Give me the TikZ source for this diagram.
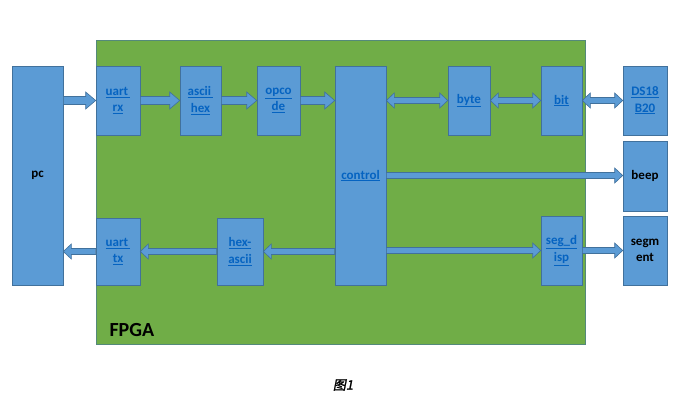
\documentclass[tikz,border=0pt]{standalone}
\usepackage{fontspec}
\setmainfont{Carlito}
\newfontfamily\cjk[FakeSlant=0.2,FakeBold=1.5]{Noto Sans CJK SC}
\usetikzlibrary{calc}
\definecolor{fpgagreen}{HTML}{70AD47}
\definecolor{boxblue}{HTML}{5B9BD5}
\definecolor{boxedge}{HTML}{41719C}
\definecolor{linkblue}{HTML}{0563C1}
\newcommand{\lnk}[1]{{\color{linkblue}\underline{#1}}}
% block arrow from #2 to #3, half shaft width #1
\newcommand{\fatarrow}[3][3]{%
  \draw[arrowshape] let \p1=(#2), \p2=(#3), \n1={sign(\x2-\x1)}, \n2={(2*#1+2)*\n1}, \n3={#1+4.5} in
    (\x1,{\y1+#1pt}) -- ({\x2-\n2*1pt},{\y1+#1pt}) -- ({\x2-\n2*1pt},{\y1+\n3*1pt})
    -- (\x2,\y1) -- ({\x2-\n2*1pt},{\y1-\n3*1pt}) -- ({\x2-\n2*1pt},{\y1-#1pt})
    -- (\x1,{\y1-#1pt}) -- cycle;}
\newcommand{\fatdouble}[3][3]{%
  \draw[arrowshape] let \p1=(#2), \p2=(#3), \n1={sign(\x2-\x1)}, \n2={(2*#1+2)*\n1}, \n3={#1+4.5} in
    (\x1,\y1) -- ({\x1+\n2*1pt},{\y1+\n3*1pt}) -- ({\x1+\n2*1pt},{\y1+#1pt})
    -- ({\x2-\n2*1pt},{\y1+#1pt}) -- ({\x2-\n2*1pt},{\y1+\n3*1pt})
    -- (\x2,\y1) -- ({\x2-\n2*1pt},{\y1-\n3*1pt}) -- ({\x2-\n2*1pt},{\y1-#1pt})
    -- ({\x1+\n2*1pt},{\y1-#1pt}) -- ({\x1+\n2*1pt},{\y1-\n3*1pt}) -- cycle;}
\tikzset{
  box/.style={draw=boxedge, fill=boxblue, line width=0.6pt, inner sep=0pt, align=center,
    font=\fontsize{13}{16.5}\selectfont\bfseries},
  arrowshape/.style={draw=boxedge, fill=boxblue, line width=0.6pt},
}
\begin{document}
\begin{tikzpicture}[x=1pt,y=-1pt]
\useasboundingbox[fill=white] (0,0) rectangle (700,407);
% fpga area
\draw[fill=fpgagreen, draw=boxedge!60!fpgagreen, line width=0.6pt] (96,40) rectangle (585,344);
\node[anchor=base west, font=\fontsize{20}{24}\selectfont\bfseries] (fpga) at (106,336) {FPGA};
% blocks
\node[box, minimum width=51pt, minimum height=219pt] (pc) at (37.5,175.5) {pc};
\node[box, minimum width=44pt, minimum height=69pt] (rx) at (118,100.5) {\lnk{uart\,}\\\lnk{rx}};
\node[box, minimum width=41pt, minimum height=69pt] (asciihex) at (200.5,100.5) {\lnk{ascii\,}\\\lnk{hex}};
\node[box, minimum width=43pt, minimum height=69pt] (opcode) at (278.5,100.5) {\lnk{opco}\\\lnk{de}};
\node[box, minimum width=51pt, minimum height=219pt] (control) at (360.5,175.5) {\lnk{control}};
\node[box, minimum width=42pt, minimum height=69pt] (byte) at (469,100.5) {\lnk{byte}};
\node[box, minimum width=41pt, minimum height=69pt] (bit) at (561.5,100.5) {\lnk{bit}};
\node[box, minimum width=44pt, minimum height=69pt] (ds) at (645,100.5) {\lnk{DS18}\\\lnk{B20}};
\node[box, minimum width=44pt, minimum height=70pt] (beep) at (645,176) {beep};
\node[box, minimum width=44pt, minimum height=69pt] (segment) at (645,250.5) {segm\\ent};
\node[box, minimum width=44pt, minimum height=67pt] (tx) at (118,251.5) {\lnk{uart\,}\\\lnk{tx}};
\node[box, minimum width=46pt, minimum height=67pt] (hexascii) at (240,251.5) {\lnk{hex-}\\\lnk{ascii}};
\node[box, minimum width=41pt, minimum height=69pt] (segdisp) at (561.5,250.5) {\lnk{seg\_d}\\\lnk{isp}};
% arrows
\fatarrow[4]{pc.east |- rx.west}{rx.west}
\fatarrow[4]{rx.east}{asciihex.west}
\fatarrow[4]{asciihex.east}{opcode.west}
\fatarrow[4]{opcode.east}{control.west |- opcode.east}
\fatdouble{control.east |- byte.west}{byte.west}
\fatdouble{byte.east}{bit.west}
\fatdouble{bit.east}{ds.west}
\fatarrow{control.east}{beep.west}
\fatarrow{control.west |- hexascii.east}{hexascii.east}
\fatarrow{hexascii.west}{tx.east}
\fatarrow{tx.west}{pc.east |- tx.west}
\fatarrow{control.east |- segdisp.west}{segdisp.west}
\fatarrow{segdisp.east}{segment.west}
% caption
\node[font=\fontsize{13}{15}\selectfont] (cap) at (343,385) {\cjk 图1};
\end{tikzpicture}
\end{document}
